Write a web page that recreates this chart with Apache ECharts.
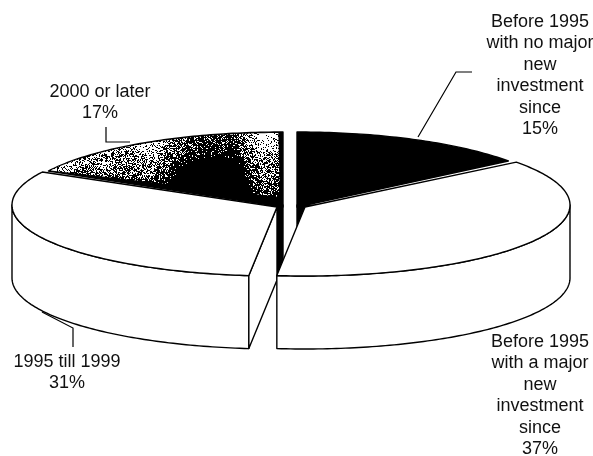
<!DOCTYPE html>
<html><head><meta charset="utf-8">
<style>html,body{margin:0;padding:0;background:#fff}#c{width:593px;height:456px}</style>
<script src="https://cdn.jsdelivr.net/npm/echarts@6/dist/echarts.min.js"></script>
</head><body><div id="c"></div>
<script>
// Data, clockwise from 12 o'clock
const sliceNames = ['Before 1995 with no major new investment since', 'Before 1995 with a major new investment since', '1995 till 1999', '2000 or later'];
const sliceValues = [15, 37, 31, 17];
const labelLines = [
  ['Before 1995', 'with no major', 'new', 'investment', 'since', '15%'],
  ['Before 1995', 'with a major', 'new', 'investment', 'since', '37%'],
  ['1995 till 1999', '31%'],
  ['2000 or later', '17%']
];

// Layout and style
const RX = 265, DEPTH = 73, ROTATE = -1.1;
const radiiY = [73, 71, 71, 73];
const centers = [[297, 205], [305, 205], [277, 205], [283, 205]];
const layers = [1, 4, 3, 2];
const labelAnchors = [[540, 22], [540, 342], [67, 362], [100, 92]];
const leaders = [
  [[472, 72], [456, 72], [418, 137]],
  null,
  [[73, 347], [73, 328], [42, 312]],
  [[106, 127], [106, 142], [130, 142]]
];
const LH = 21.4, FONT = '18px "Liberation Sans", Arial, sans-serif';

// Scanned halftone look of the 2000-or-later slice
function grain() {
  const stops = [[48,.1],[70,.15],[85,.45],[105,.35],[125,.5],[150,.35],[165,.6],[190,.95],[235,1],[250,.6],[262,.3],[275,.45],[285,.7]];
  const cv = document.createElement('canvas'); cv.width = 593; cv.height = 456;
  const g = cv.getContext('2d'); g.fillStyle = '#fff'; g.fillRect(0, 0, 593, 456); g.fillStyle = '#000';
  const dark = x => {
    for (let i = 1; i < stops.length; i++) if (x <= stops[i][0]) {
      const a = stops[i-1], b = stops[i]; return a[1] + (b[1]-a[1]) * Math.max(0,(x-a[0]))/(b[0]-a[0]);
    }
    return .7;
  };
  let s = 12345;
  const next = () => (s = (s * 1103515245 + 12345) & 0x7fffffff) / 0x7fffffff;
  for (let x = 40; x < 290; x++) for (let y = 125; y < 215; y++) {
    const d = dark(x) + (y - 158) * 0.012;
    if (next() < d) g.fillRect(x, y, 1, 1);
  }
  return cv;
}
const grainPattern = { image: grain(), repeat: 'no-repeat' };

const pt = (c, deg, ry, dy) => {
  const r = deg * Math.PI / 180;
  return [c[0] + RX * Math.sin(r), c[1] - ry * Math.cos(r) + (dy || 0)];
};
const arc = (c, a, b, ry, dy) => {
  const n = Math.max(2, Math.ceil(Math.abs(b - a))), out = [];
  for (let i = 0; i <= n; i++) out.push(pt(c, a + (b - a) * i / n, ry, dy));
  return out;
};
const total = sliceValues.reduce((p, v) => p + v, 0);
const LINE = { stroke: '#000', lineWidth: 1.4, lineJoin: 'round' };

function renderItem(params, api) {
  const i = params.dataIndex, v = api.value(0);
  const before = sliceValues.slice(0, i).reduce((p, q) => p + q, 0);
  // the 12 o'clock cut stays vertical; inner cuts carry the small rotation
  const a = i === 0 ? 0 : ROTATE + before / total * 360;
  const b = i === sliceValues.length - 1 ? 360 : ROTATE + (before + v) / total * 360;
  const c = centers[i], ry = radiiY[i], z = layers[i] * 10, kids = [];
  const apex = [c[0], c[1] + 2];
  const dark = i === 0 || i === 3;
  const add = (points, fill, extra) => kids.push({
    type: 'polygon', z2: z + (extra || 0), shape: { points },
    style: Object.assign({}, LINE, { fill })
  });
  if (dark) add([[c[0], c[1] + DEPTH]].concat(arc(c, a, b, ry, DEPTH)), '#000');
  // outer wall, visible on the front half only
  const lo = Math.max(a, 90), hi = Math.min(b, 270);
  if (lo < hi) add(arc(c, lo, hi, ry).concat(arc(c, hi, lo, ry, DEPTH)), dark ? '#000' : '#fff', 1);
  // cut face of the 1995-1999 slice
  if (i === 2) {
    const f = pt(c, a, ry);
    add([apex, f, [f[0], f[1] + DEPTH], [apex[0], apex[1] + DEPTH]], '#fff', 1);
  }
  // top face
  add([apex].concat(arc(c, a, b, ry)), dark ? '#000' : '#fff', 2);
  if (i === 3) {
    kids.push({
      type: 'polygon', z2: z + 3,
      shape: { points: [[c[0] - 3, c[1] - 8]].concat(arc([c[0] - 1, c[1] + 1], a + 1.5, b - 0.8, ry)) },
      style: { fill: grainPattern }
    });
  }
  if (leaders[i]) kids.push({
    type: 'polyline', z2: 60, shape: { points: leaders[i] },
    style: { fill: null, stroke: '#000', lineWidth: 1.2 }
  });
  labelLines[i].forEach((t, k) => kids.push({
    type: 'text', z2: 70,
    style: { text: t, x: labelAnchors[i][0], y: labelAnchors[i][1] + k * LH, align: 'center', verticalAlign: 'middle', font: FONT, fill: '#111' }
  }));
  return { type: 'group', children: kids };
}

const chart = echarts.init(document.getElementById('c'), null, { renderer: 'canvas' });
chart.setOption({
  animation: false,
  backgroundColor: '#fff',
  series: [{
    type: 'custom',
    coordinateSystem: 'none',
    renderItem,
    silent: true,
    data: sliceValues.map((v, i) => ({ name: sliceNames[i], value: [v] }))
  }]
});
</script></body></html>
